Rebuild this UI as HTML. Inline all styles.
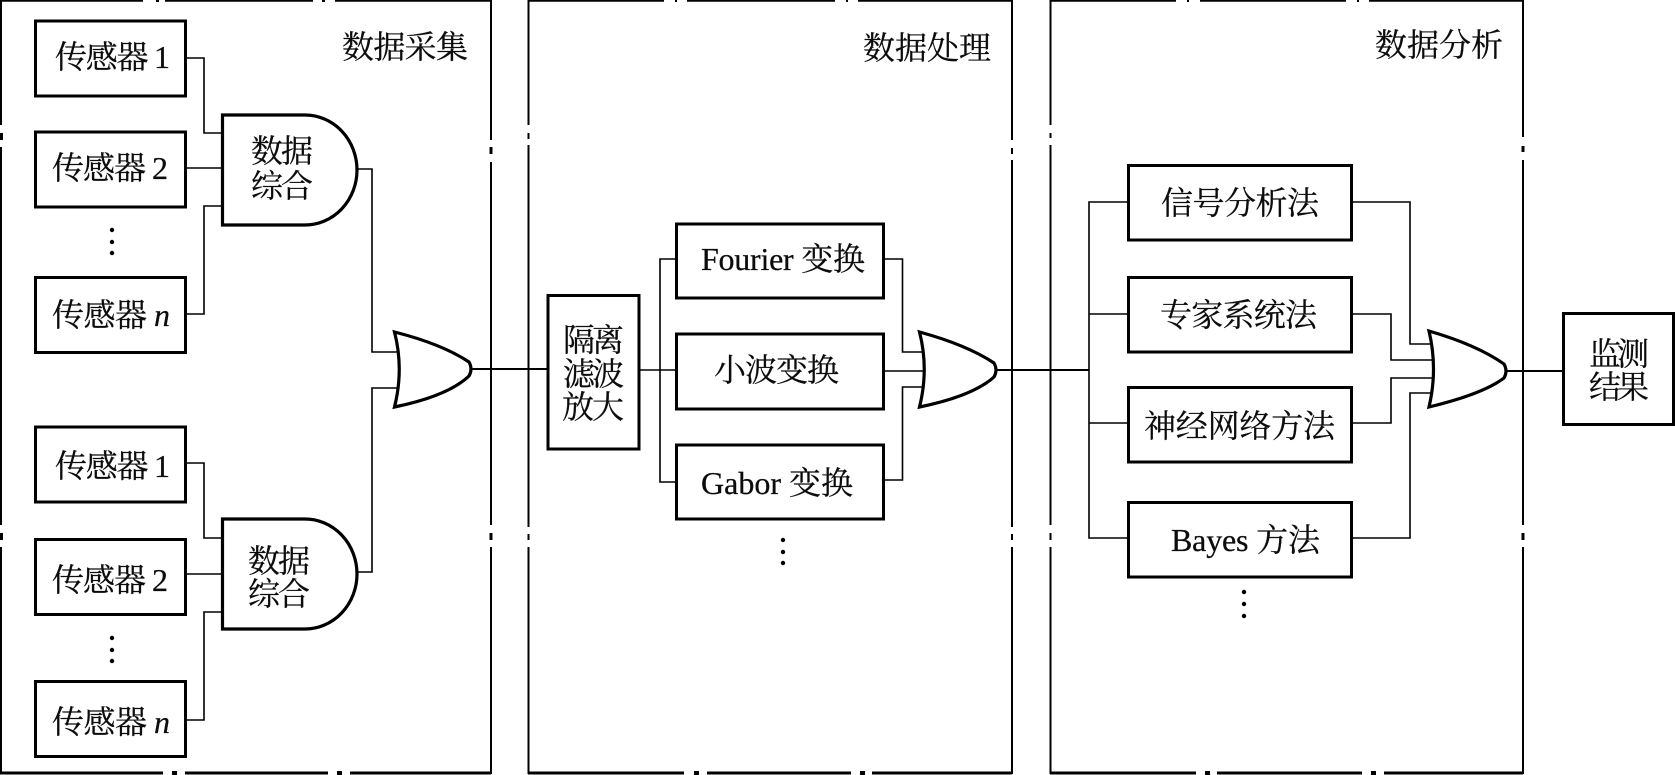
<!DOCTYPE html>
<html lang="zh">
<head>
<meta charset="utf-8">
<title>监测流程</title>
<style>
html,body{margin:0;padding:0;background:#fff;width:1675px;height:775px;overflow:hidden}
svg{display:block}
text{font-family:"Liberation Serif","Noto Serif CJK SC",serif;font-size:32px;fill:#0c0c0c;stroke:#0c0c0c;stroke-width:.25;white-space:pre}
.f{fill:none;stroke:#000;stroke-width:2}
.b{fill:#fff;stroke:#000;stroke-width:3}
.w{fill:none;stroke:#000;stroke-width:1.6}
.g{fill:#fff;stroke:#000;stroke-width:3.2;stroke-linejoin:miter}
.x{fill:#fff}
</style>
</head>
<body>
<svg width="1675" height="775" viewBox="0 0 1675 775" xmlns="http://www.w3.org/2000/svg">
<!-- frames -->
<path class="f" d="M1 0.8H491V773H1Z"/>
<path class="f" d="M528.5 0.8H1012V773H528.5Z"/>
<path class="f" d="M1050.5 0.8H1523V773H1050.5Z"/>
<path d="M0 773H491M528 773H1012M1050 773H1523" stroke="#000" stroke-width="3" fill="none"/>
<!-- frame gaps -->
<g class="x">
<rect x="143" y="0" width="22" height="3"/><rect x="313" y="0" width="22" height="3"/>
<rect x="664" y="0" width="23" height="3"/><rect x="835" y="0" width="23" height="3"/>
<rect x="1176" y="0" width="24" height="3"/><rect x="1346" y="0" width="23" height="3"/>
<rect x="163" y="771" width="22" height="4"/><rect x="328" y="771" width="22" height="4"/>
<rect x="684" y="771" width="23" height="4"/><rect x="851" y="771" width="21" height="4"/>
<rect x="1196" y="771" width="21" height="4"/><rect x="1362" y="771" width="22" height="4"/>
<rect x="0" y="125" width="3" height="22"/><rect x="0" y="525" width="3" height="22"/>
<rect x="489" y="140" width="4" height="22"/><rect x="489" y="525" width="4" height="22"/>
<rect x="526" y="125" width="4" height="20"/><rect x="526" y="527" width="4" height="20"/>
<rect x="1010" y="140" width="4" height="20"/><rect x="1010" y="527" width="4" height="20"/>
<rect x="1048" y="125" width="4" height="20"/><rect x="1048" y="525" width="4" height="22"/>
<rect x="1521" y="137" width="4" height="23"/><rect x="1521" y="525" width="4" height="22"/>
</g>
<g fill="#000">
<rect x="156" y="0" width="3" height="2"/><rect x="322" y="0" width="3" height="2"/>
<rect x="675" y="0" width="2" height="2"/><rect x="846" y="0" width="2" height="2"/>
<rect x="1187" y="0" width="2" height="2"/><rect x="1357" y="0" width="2" height="2"/>
<rect x="172" y="771" width="5" height="4"/><rect x="337" y="771" width="5" height="4"/>
<rect x="694" y="771" width="5" height="4"/><rect x="860" y="771" width="5" height="4"/>
<rect x="1205" y="771" width="5" height="4"/><rect x="1371" y="771" width="5" height="4"/>
<rect x="0" y="133" width="3" height="7"/><rect x="0" y="533" width="3" height="7"/>
<rect x="489.5" y="147" width="3" height="7"/><rect x="489.5" y="533" width="3" height="7"/>
<rect x="527.5" y="133" width="2" height="6"/><rect x="527.5" y="534" width="2" height="6"/>
<rect x="1011" y="148" width="2" height="6"/><rect x="1011" y="534" width="2" height="6"/>
<rect x="1049.5" y="133" width="2" height="5"/><rect x="1049.5" y="533" width="2" height="7"/>
<rect x="1521.5" y="146" width="3" height="6"/><rect x="1521.5" y="533" width="3" height="7"/>
</g>
<!-- wires -->
<g class="w">
<path d="M186 58H204V133H224M186 168H224M186 314H204V206H224"/>
<path d="M186 463H204V538H224M186 574H224M186 720H204V612H224"/>
<path d="M357 169H372V352H398M357 572H372V388H398"/>
<path d="M472 369H548" stroke-width="2"/>
<path d="M640 370H676M676 259H660V482H676"/>
<path d="M884 259H902.5V352H924M884 371H926M884 480H902.5V387H924" />
<path d="M996 370H1089" stroke-width="2"/>
<path d="M1128 202H1089V538H1128M1089 314H1128M1089 423H1128"/>
<path d="M1352 202H1410V344H1433M1352 314H1391V360H1436M1352 423H1391V378H1436M1352 538H1410V393H1433"/>
<path d="M1507 371H1563" stroke-width="2"/>
</g>
<!-- boxes -->
<g class="b">
<rect x="35.5" y="21" width="150" height="75"/>
<rect x="35.5" y="132" width="150" height="75"/>
<rect x="35.5" y="277.500" width="150" height="75"/>
<rect x="35.5" y="427" width="150" height="75"/>
<rect x="35.500" y="539.500" width="150" height="75"/>
<rect x="35.5" y="681.500" width="150" height="75"/>
<rect x="548" y="295.500" width="91" height="153.500"/>
<rect x="676.500" y="224" width="207" height="74"/>
<rect x="676.500" y="334" width="207" height="75"/>
<rect x="676.500" y="445" width="207" height="74"/>
<rect x="1128.500" y="165.500" width="223" height="74.500"/>
<rect x="1128.500" y="277.500" width="223" height="74.500"/>
<rect x="1128.500" y="387.500" width="223" height="74.500"/>
<rect x="1128.500" y="502.500" width="223" height="74.500"/>
<rect x="1563.500" y="313.500" width="110" height="111"/>
</g>
<!-- gates -->
<path class="g" d="M222.500 115H305A52 55 0 0 1 305 225H222.500Z"/>
<path class="g" d="M222.500 519H305A52 55 0 0 1 305 629H222.500Z"/>
<path class="g" d="M394.500 332Q404 369 394.500 407Q448 396 469 376Q473 369 469 362Q442 344 394.500 332Z"/>
<path class="g" d="M919.500 332Q929 369 919.500 407Q973 396 994 377Q998 370 994 363Q967 345 919.500 332Z"/>
<path class="g" d="M1429 331Q1438 369 1429 407Q1483 394 1504 378Q1508 371 1504 364Q1477 345 1429 331Z"/>
<!-- dots -->
<g fill="#000">
<circle cx="112" cy="230" r="2.200"/><circle cx="112" cy="242" r="2.200"/><circle cx="112" cy="253" r="2.200"/>
<circle cx="112" cy="638" r="2.200"/><circle cx="112" cy="650" r="2.200"/><circle cx="112" cy="661" r="2.200"/>
<circle cx="783" cy="540" r="2.200"/><circle cx="783" cy="552" r="2.200"/><circle cx="783" cy="563" r="2.200"/>
<circle cx="1244" cy="592" r="2.200"/><circle cx="1244" cy="604" r="2.200"/><circle cx="1244" cy="616" r="2.200"/>
</g>
<!-- labels -->
<text x="342" y="58" textLength="126">数据采集</text>
<text x="863" y="59" textLength="128">数据处理</text>
<text x="1375" y="56" textLength="128">数据分析</text>

<text x="55" y="68" textLength="115">传感器 1</text>
<text x="52" y="179" textLength="116">传感器 2</text>
<text x="52" y="326" textLength="118">传感器 <tspan font-style="italic">n</tspan></text>
<text x="55" y="477" textLength="115">传感器 1</text>
<text x="52" y="591" textLength="116">传感器 2</text>
<text x="52" y="733" textLength="118">传感器 <tspan font-style="italic">n</tspan></text>

<text x="251" y="162" textLength="62">数据</text>
<text x="251" y="197" textLength="62">综合</text>
<text x="248" y="572" textLength="62">数据</text>
<text x="248" y="605" textLength="62">综合</text>

<text x="563" y="351" textLength="61">隔离</text>
<text x="563" y="385" textLength="61">滤波</text>
<text x="562" y="418" textLength="62">放大</text>

<text x="701" y="270" textLength="164">Fourier 变换</text>
<text x="714" y="381" textLength="125">小波变换</text>
<text x="701" y="494" textLength="152">Gabor 变换</text>

<text x="1161" y="214" textLength="158">信号分析法</text>
<text x="1160" y="326" textLength="157">专家系统法</text>
<text x="1144" y="437" textLength="191">神经网络方法</text>
<text x="1171" y="551" textLength="149">Bayes 方法</text>

<text x="1589" y="365" textLength="60">监测</text>
<text x="1589" y="398" textLength="60">结果</text>
</svg>
</body>
</html>
